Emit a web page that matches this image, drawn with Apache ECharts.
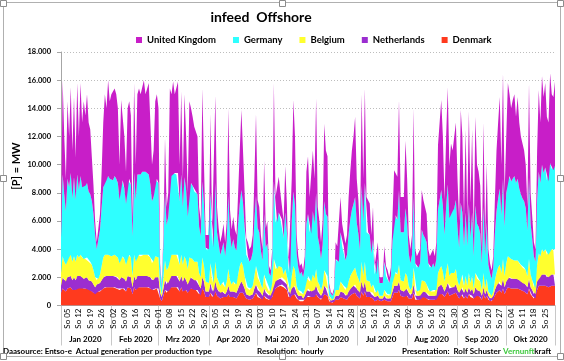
<!DOCTYPE html>
<html><head><meta charset="utf-8">
<script src="https://cdn.jsdelivr.net/npm/echarts@6/dist/echarts.min.js"></script>
<style>html,body{margin:0;padding:0;background:#fff}#c{width:564px;height:361px}</style>
</head><body><div id="c"></div>
<script>
// Daily values (MW), Jan 1 2020 .. Oct 31 2020
const denmark = [
 900,1200,1100,1000,1200,1200,1300,1100,1200,1100,1300,1200,1300,1200,1200,1200,1200,1100,1100,1000,900,800,1000,1000,1000,1100,1200,1300,1300,1300,1300,
 1300,1300,1300,1200,1200,1100,1200,1200,1200,1000,1300,1300,1200,800,1300,1100,1300,1300,1300,1300,1300,1300,1300,1300,1200,1100,1100,1200,1200,
 1200,500,300,700,1100,900,1000,1300,1300,1300,1300,1300,1300,1000,1300,1000,1200,1100,900,1200,1200,1200,1100,1100,1100,800,700,1200,1000,600,600,
 600,900,600,600,1000,700,600,500,600,600,500,600,800,600,500,600,500,500,700,900,1000,900,700,500,500,400,400,500,700,900,
 600,600,500,400,700,500,500,400,400,600,1100,1200,1300,1400,1400,1500,1300,1300,1100,600,500,700,900,800,500,400,300,400,300,400,600,
 700,600,600,700,600,800,600,500,400,500,800,700,700,300,200,200,250,400,400,400,600,500,500,400,400,600,700,800,800,900,
 700,600,500,1000,700,1000,600,600,600,500,500,300,300,400,300,300,300,400,300,300,300,300,600,900,1000,900,1100,700,700,600,800,
 700,500,400,500,900,400,400,400,400,600,600,600,500,400,400,400,400,400,400,800,800,900,800,600,800,1000,700,800,800,800,900,
 700,500,800,800,500,700,500,800,600,700,500,800,700,700,600,400,800,500,700,400,300,300,400,700,900,1000,1100,900,1200,800,
 1100,1300,1300,1200,1200,1200,1200,1200,1100,1100,1000,1000,900,800,1200,800,700,500,500,1100,1400,1300,1400,1400,1400,1300,1300,1400,1400,1400,1400
];
const netherlands = [
 500,800,700,700,800,800,800,700,800,700,800,800,800,800,700,700,800,700,700,700,600,500,500,500,600,700,800,800,800,800,800,
 800,800,800,800,800,700,800,800,700,700,800,800,800,500,800,700,800,800,800,800,800,800,800,800,800,700,700,800,800,
 800,400,300,500,700,600,600,800,800,800,800,800,800,700,800,700,800,700,600,800,800,700,700,700,700,600,500,800,700,400,400,
 400,700,400,400,700,500,400,400,400,400,300,400,600,400,400,400,400,400,500,600,700,600,500,300,300,300,300,300,500,600,
 500,500,400,300,500,400,400,300,300,400,700,500,500,500,500,500,400,500,400,300,300,500,600,600,400,300,300,300,200,300,500,
 500,400,400,500,500,600,400,400,300,400,600,500,500,200,150,100,150,300,300,300,400,400,400,300,300,400,500,500,600,600,
 500,400,400,700,500,700,400,400,400,300,400,300,300,300,200,200,200,300,200,200,200,200,400,500,500,500,600,400,400,400,500,
 500,400,300,300,600,300,300,300,300,400,400,400,400,300,300,300,300,300,300,500,600,600,500,400,500,600,500,500,500,500,600,
 400,400,500,500,400,500,400,500,400,500,300,500,400,400,400,300,500,300,400,300,200,200,300,400,500,600,600,500,700,500,
 600,700,700,700,700,700,700,700,700,600,600,600,600,500,700,500,400,300,300,600,700,700,800,700,800,700,700,800,800,800,800
];
const belgium = [
 900,1500,1300,1200,1500,1400,1500,1300,1500,1300,1500,1400,1500,1400,1400,1400,1400,1300,1300,1200,1000,700,300,400,600,1000,1400,1500,1500,1500,1500,
 1400,1400,1500,1500,1400,1200,1500,1500,1400,1200,1500,1500,1400,800,1500,1300,1500,1500,1400,1500,1500,1500,1500,1500,1400,1200,1300,1500,1500,
 1400,500,200,800,1400,1000,1100,1500,1500,1500,1500,1500,1500,1200,1500,1200,1500,1400,1100,1400,1400,1400,1300,1300,1300,900,800,1400,1100,700,600,
 600,1400,600,600,1400,800,700,500,600,700,500,700,1200,800,600,700,600,600,1000,1300,1400,1300,900,500,500,400,500,600,900,1300,
 900,800,600,500,1000,600,700,300,300,600,1500,900,800,900,800,700,500,800,600,300,300,900,1300,1100,500,400,300,300,300,400,900,
 900,700,700,1000,800,1200,700,600,400,600,1100,900,900,200,150,100,150,400,400,400,700,600,500,400,500,700,900,1000,1100,1200,
 1000,900,700,1400,900,1400,800,700,700,500,600,300,300,400,200,200,200,400,300,300,200,300,600,900,900,800,1200,700,700,700,1000,
 900,500,400,500,1200,400,300,300,400,800,700,700,600,400,300,300,400,300,400,1000,1200,1300,1100,700,1100,1400,900,1000,1000,1000,1100,
 700,500,1000,900,500,900,500,1000,600,900,400,1000,800,800,700,400,1000,400,800,300,300,200,300,700,900,1100,1200,900,1400,800,
 1300,1500,1400,1400,1400,1300,1300,1300,1200,1200,1100,1100,1000,800,1400,900,700,500,400,1200,1600,1500,1800,1700,1800,1600,1600,1900,1800,1700,1800
];
const germany = [
 2500,5800,4800,3800,5500,5000,5800,4500,5600,4400,5700,4800,5600,5000,5300,5200,5300,5000,4800,4500,4000,3000,2200,2800,3200,4200,5000,5400,5300,5600,5400,
 5400,5400,5600,5500,5300,4500,5500,5400,5000,4300,5300,5400,5200,2800,5800,4400,5700,5800,5800,5900,6000,5900,5800,5700,5200,4400,4600,5400,5500,
 5300,1300,500,2300,4800,3200,3600,5500,5600,5800,5800,5700,5800,4500,5700,4100,5600,5000,3700,5400,5300,5200,5000,5000,4800,3300,2900,5400,4300,2400,2300,
 2400,5000,2600,2500,5600,3200,2700,2200,2400,2800,2200,2900,5200,3200,2600,3000,2600,2400,3600,4400,5100,4500,3500,2300,2200,2000,2100,2400,3900,5000,
 3500,3300,2400,2000,4300,2600,2800,1300,1100,1700,5500,3300,3300,3800,3400,3400,2600,4000,3100,1100,1200,3900,5300,4600,2300,1600,1300,1400,1200,1600,3800,
 4400,3500,3400,4500,3900,5400,3200,2800,2200,2800,4900,4400,4200,600,350,300,450,2200,2000,2000,3500,2700,2800,2100,2400,3400,4000,4500,4700,5000,
 3700,3200,2300,5400,3800,5600,3400,3500,3300,2400,3200,1300,1300,2200,900,900,900,2000,1300,1200,900,1300,3000,4100,4000,3900,5300,3400,3500,3500,4600,
 3700,2300,1900,2300,5000,1900,1700,1700,1900,3600,3300,3100,3000,1900,1700,1700,1900,1700,2200,4500,4900,5400,4700,3300,4600,5600,4100,4500,4400,4600,4900,
 3700,2700,5000,4400,2800,4500,2800,4900,3200,4500,2300,4800,3900,3700,3400,1900,4700,2300,4000,1900,1500,1200,1700,3300,4400,4900,5400,4100,5700,3500,
 5000,5800,5800,5500,5700,6000,5500,5800,5300,5000,4900,4700,4400,3200,5800,3600,2900,2200,1900,4600,5800,5200,6000,5600,5800,5300,5200,6000,5700,5700,5900
];
const unitedKingdom = [
 1200,6700,4100,2300,5500,3600,6100,3400,5700,3000,6500,3800,6600,4600,5900,5000,6300,4900,4600,3100,2000,1000,500,800,1100,2500,4600,6000,5100,6800,5500,
 6100,6100,6200,6000,5300,2500,5600,5700,3700,2300,5100,5500,4900,1100,6400,2500,5700,6000,5700,5500,6400,5500,5600,6500,4400,2600,3300,5600,6000,
 5300,300,200,700,3900,1300,1700,6300,5800,6500,5600,5700,6500,2600,5900,2000,5900,3800,1700,5700,5300,4900,4600,4600,4100,1400,1100,6600,2900,900,1100,
 1000,5600,1200,1300,6200,1800,1100,900,1000,1300,1000,1400,6200,1800,1300,1600,1300,1100,2200,3800,5700,3700,2400,1200,1000,900,900,1200,3000,5800,
 2000,1800,1100,800,3800,1400,1600,500,400,700,7000,1800,1800,2550,1900,1900,1200,3300,2000,400,400,3000,6500,4900,1300,800,600,600,500,800,3700,
 4100,2500,2600,4300,3200,6700,2100,1700,1200,1700,5500,4500,4300,300,150,100,200,1200,1100,1100,2500,1600,1600,1200,1400,2600,3400,4200,4800,5700,
 3100,2400,1100,6500,3100,6700,2500,2500,2250,1300,2300,600,600,1200,400,400,400,1100,700,500,400,600,1700,3200,3200,3050,6400,2500,2400,2500,4800,
 3200,1300,1000,1400,6300,1000,800,800,1000,2800,2500,2200,2000,1000,800,800,1000,800,1200,4600,5500,6400,4900,2500,5000,6900,3700,4700,4300,5100,5500,
 3500,1900,6600,5400,2100,5900,2100,6600,2500,5900,1500,6300,4200,3900,3400,1000,6000,1500,4200,1100,700,600,800,2400,4300,5400,6500,3600,7500,2400,
 4000,6500,5800,5200,5600,5800,4700,5800,4700,4100,3900,3600,3100,1700,6700,2200,1600,1000,900,3500,5800,4300,6300,5400,6000,4500,4200,6400,5300,5200,6000
];
const seriesNames = ['Denmark', 'Netherlands', 'Belgium', 'Germany', 'United Kingdom'];
const legendOrder = ['United Kingdom', 'Germany', 'Belgium', 'Netherlands', 'Denmark'];
const monthLabels = ['Jan 2020','Feb 2020','Mrz 2020','Apr 2020','Mai 2020','Jun 2020','Jul 2020','Aug 2020','Sep 2020','Okt 2020'];
const yTickLabels = ['0','2.000','4.000','6.000','8.000','10.000','12.000','14.000','16.000','18.000'];

const dates = [];
const t0 = Date.UTC(2020, 0, 1);
for (let i = 0; i < denmark.length; i++) {
  dates.push(new Date(t0 + i * 86400000).toISOString().slice(0, 10));
}
const isSunday = v => new Date(v + 'T00:00:00Z').getUTCDay() === 0;

const colors = {
  'Denmark': '#FF3A1E', 'Netherlands': '#9B2ED0', 'Belgium': '#FFFF2E',
  'Germany': '#2EFFFF', 'United Kingdom': '#C81EC8'
};
const dataMap = {
  'Denmark': denmark, 'Netherlands': netherlands, 'Belgium': belgium,
  'Germany': germany, 'United Kingdom': unitedKingdom
};
const FONT = 'Lato, "Noto Sans", sans-serif';

const chart = echarts.init(document.getElementById('c'), null, { renderer: 'canvas' });
const handles = [[0,0],[279,0],[557,0],[0,175],[557,175],[0,353],[279,353],[557,353]];
chart.setOption({
  animation: false,
  backgroundColor: '#fff',
  title: {
    text: 'infeed  Offshore', left: 256, top: 5, textAlign: 'center',
    textStyle: { fontFamily: FONT, fontSize: 14, fontWeight: 'bold', color: '#000' }
  },
  legend: {
    data: legendOrder, left: 131, top: 30, icon: 'rect', itemWidth: 6, itemHeight: 6, itemGap: 17,
    textStyle: { fontFamily: FONT, fontSize: 9.5, fontWeight: 'bold', color: '#000' }
  },
  grid: { left: 61, right: 9, top: 52, bottom: 55.5 },
  xAxis: [{
    type: 'category', data: dates, boundaryGap: false,
    axisLine: { lineStyle: { color: '#a6a6a6' } },
    axisTick: { show: false },
    axisLabel: {
      interval: (i, v) => isSunday(v), formatter: v => 'So ' + v.slice(8, 10),
      rotate: 90, margin: 3, fontFamily: FONT, fontSize: 8, color: '#000'
    }
  }, {
    type: 'category', data: dates, boundaryGap: false, position: 'bottom',
    axisLine: { show: false },
    axisTick: { show: true, interval: (i, v) => v.slice(8) === '01' || i === dates.length - 1, length: 40, lineStyle: { color: '#c8c8c8' } },
    axisLabel: {
      interval: (i, v) => v.slice(8) === '16', formatter: v => monthLabels[+v.slice(5, 7) - 1],
      margin: 30, fontFamily: FONT, fontSize: 8, fontWeight: 'bold', color: '#000'
    }
  }],
  yAxis: {
    type: 'value', min: 0, max: 18000, interval: 2000,
    axisLine: { show: true, lineStyle: { color: '#a6a6a6' } },
    axisTick: { show: true, length: 4, lineStyle: { color: '#a6a6a6' } },
    splitLine: { lineStyle: { type: [1, 2], color: '#bdbdbd' } },
    axisLabel: { formatter: v => yTickLabels[Math.round(v / 2000)], margin: 10, fontFamily: FONT, fontSize: 7.5, fontWeight: 'bold', color: '#000' }
  },
  series: seriesNames.map(n => ({
    name: n, type: 'line', stack: 'total', data: dataMap[n], symbol: 'none',
    color: colors[n], lineStyle: { width: 0 }, areaStyle: { color: colors[n], opacity: 1 },
    emphasis: { disabled: true }
  })),
  graphic: [
    { type: 'rect', shape: { x: 3.5, y: 2.5, width: 557, height: 354 }, style: { fill: 'none', stroke: '#b0b0b0', lineWidth: 1 }, silent: true },
    ...handles.map(([x, y]) => ({ type: 'rect', shape: { x: x + 0.5, y: y + 0.5, width: 6, height: 6 }, style: { fill: '#fff', stroke: '#8c8c8c', lineWidth: 1 }, z: 10 })),
    { type: 'text', x: 16, y: 166, rotation: Math.PI / 2, style: { text: '[P] = MW', fontFamily: FONT, fontSize: 11, fontWeight: 'bold', fill: '#000', align: 'center', verticalAlign: 'middle' } },
    { type: 'text', x: 3, y: 351, style: { text: 'Daasource: Entso-e  Actual generation per production type', fontFamily: FONT, fontSize: 8, fontWeight: 'bold', fill: '#000', verticalAlign: 'middle' } },
    { type: 'text', x: 257, y: 351, style: { text: 'Resolution:  hourly', fontFamily: FONT, fontSize: 8, fontWeight: 'bold', fill: '#000', verticalAlign: 'middle' } },
    { type: 'text', x: 402, y: 351, style: { text: 'Presentation:  Rolf Schuster', fontFamily: FONT, fontSize: 8, fontWeight: 'bold', fill: '#000', verticalAlign: 'middle' } },
    { type: 'text', x: 503, y: 351, style: { text: '{g|Vernunft}{k|kraft}', verticalAlign: 'middle',
      rich: { g: { fontFamily: FONT, fontSize: 8, fontWeight: 'bold', fill: '#3CC83C' }, k: { fontFamily: FONT, fontSize: 8, fontWeight: 'bold', fill: '#000' } } } }
  ]
});
</script></body></html>
